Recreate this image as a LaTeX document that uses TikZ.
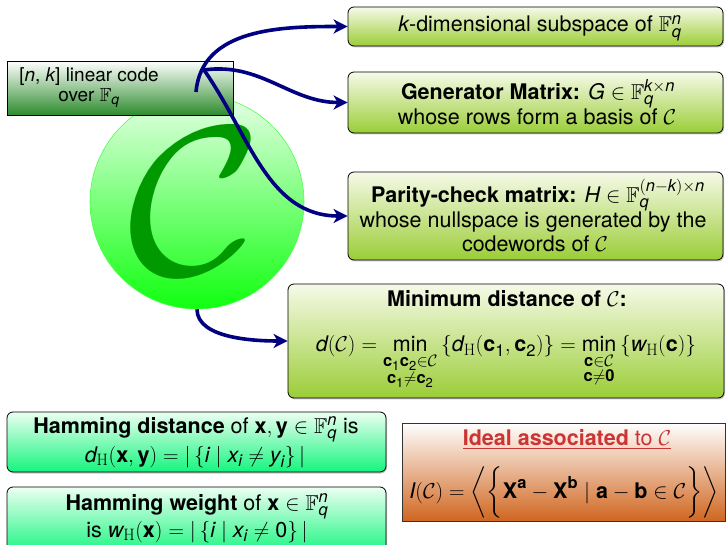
\RequirePackage{fix-cm}
\documentclass[tikz,border=0pt]{standalone}
\usepackage{amsmath,amssymb}
\usepackage{fontspec}
\setmainfont{TeX Gyre Heros}
\newfontfamily\lmr{Latin Modern Roman}
\DeclareMathSizes{21.5}{21.5}{16.5}{13}
\DeclareMathSizes{19}{19}{14}{11}
\usetikzlibrary{arrows.meta,shadows}
\definecolor{navyarrow}{RGB}{0,0,128}
\definecolor{boxtop}{RGB}{246,250,232}
\definecolor{boxgreen}{RGB}{155,205,55}
\definecolor{minttop}{RGB}{236,255,242}
\definecolor{mint}{RGB}{20,245,125}
\definecolor{codegreen}{RGB}{45,140,45}
\definecolor{idealorange}{RGB}{208,102,32}
\definecolor{idealred}{RGB}{204,51,51}
\definecolor{bigCgreen}{RGB}{0,153,0}
\definecolor{circtop}{RGB}{230,255,230}
\definecolor{circbot}{RGB}{16,255,16}
\newcommand\mv[1]{\textit{#1}}
\newcommand\bv[1]{\textbf{#1}}
\newcommand\Fq{\mathbb{F}_{\mv{q}}}
\newcommand\CC{\mathcal{C}}
\newcommand\Hs{\text{\lmr H}}
\begin{document}
\begin{tikzpicture}[x=1pt,y=1pt,
  every node/.style={font=\fontsize{21.5}{26}\selectfont},
  txt/.style={anchor=base, inner sep=0pt},
  gbox/.style={draw=black, line width=0.8pt, rounded corners=6pt, top color=boxtop,
    bottom color=boxgreen, inner sep=0pt,
    drop shadow={shadow xshift=1pt, shadow yshift=-1.5pt, opacity=0.45}},
  mbox/.style={gbox, top color=minttop, bottom color=mint},
  arr/.style={draw=navyarrow, line width=3.6pt,
    -{Stealth[length=14pt,width=14pt,inset=4pt]}}
]
\useasboundingbox (0,0) rectangle (726,-545);
% circle with big C
\node[circle, minimum size=214pt, draw=green!70, line width=0.6pt,
  top color=circtop, bottom color=circbot] (ball) at (197,-202) {};
\node[text=bigCgreen, inner sep=0pt, font=\fontsize{7}{8}\selectfont] (bigc) at (195,-202)
  {\scalebox{30.5}{$\mathcal{C}$}};
% linear code box
\node[draw=black, line width=0.8pt, minimum width=226pt, minimum height=54pt,
  top color=white, bottom color=codegreen, inner sep=0pt] (lcbox) at (120,-88) {};
\node[txt, font=\fontsize{19}{22}\selectfont] (lc1) at (89,-82) {[$\mv{n}$, $\mv{k}$] linear code};
\node[txt, font=\fontsize{19}{22}\selectfont] (lc2) at (89,-102) {over $\Fq$};
% right boxes
\node[gbox, minimum width=375pt, minimum height=39pt] (b1) at (535.5,-26.5) {};
\node[txt] (b1t) at (540,-32) {$\mv{k}$-dimensional subspace of $\Fq^{\mv{n}}$};
\node[gbox, minimum width=375pt, minimum height=61pt] (b2) at (535.5,-102.5) {};
\node[txt] (b2a) at (538,-100) {\textbf{Generator Matrix:} $\mv{G}\in\Fq^{\mv{k}\times\mv{n}}$};
\node[txt] (b2b) at (537,-125) {whose rows form a basis of $\CC$};
\node[gbox, minimum width=375pt, minimum height=88pt] (b3) at (535.5,-216) {};
\node[txt] (b3a) at (538,-203) {\textbf{Parity-check matrix:} $\mv{H}\in\Fq^{(\mv{n}-\mv{k})\times\mv{n}}$};
\node[txt] (b3b) at (533,-228) {whose nullspace is generated by the};
\node[txt] (b3c) at (535,-252) {codewords of $\CC$};
\node[gbox, minimum width=436pt, minimum height=114pt] (b4) at (506,-341) {};
\node[txt] (b4a) at (507,-307) {\textbf{Minimum distance of $\CC$:}};
\node[txt] (b4b) at (506,-352) {$\displaystyle \mv{d}(\CC)=\min_{\substack{\bv{c}_{\text{1}}\bv{c}_{\text{2}}\in\CC\\ \bv{c}_{\text{1}}\neq\bv{c}_{\text{2}}}}\,\{\mv{d}_{\Hs}(\bv{c}_{\text{1}},\bv{c}_{\text{2}})\}=\min_{\substack{\bv{c}\in\CC\\ \bv{c}\neq\bv{0}}}\,\{\mv{w}_{\Hs}(\bv{c})\}$};
% Hamming boxes
\node[mbox, minimum width=379pt, minimum height=60pt] (b5) at (196.5,-442) {};
\node[txt] (b5a) at (196,-433) {\textbf{Hamming distance} of $\bv{x},\bv{y}\in\Fq^{\mv{n}}$ is};
\node[txt] (b5b) at (195,-462) {$\mv{d}_{\Hs}(\bv{x},\bv{y})=|\,\{\mv{i}\mid\mv{x}_{\mv{i}}\neq\mv{y}_{\mv{i}}\}\,|$};
\node[mbox, minimum width=379pt, minimum height=68pt] (b6) at (196.5,-521) {};
\node[txt] (b6a) at (197,-510) {\textbf{Hamming weight} of $\bv{x}\in\Fq^{\mv{n}}$};
\node[txt] (b6b) at (197,-537) {is $\mv{w}_{\Hs}(\bv{x})=|\,\{\mv{i}\mid\mv{x}_{\mv{i}}\neq \text{0}\}\,|$};
% Ideal box
\node[draw=black!80, line width=0.8pt, minimum width=323pt, minimum height=98pt,
  top color=white, bottom color=idealorange, inner sep=0pt] (b7) at (563.5,-472) {};
\node[txt, text=idealred] (b7a) at (567,-445) {\underline{\textbf{Ideal associated} to $\CC$}};
\node[txt] (b7b) at (564,-498) {$\mv{I}(\CC)=\bigg\langle\bigg\{\bv{X}^{\bv{a}}-\bv{X}^{\bv{b}}\mid\bv{a}-\bv{b}\in\CC\bigg\}\bigg\rangle$};
% arrows
\coordinate (hubA) at (196,-92);
\coordinate (hubB) at (204,-70);
\draw[arr] (hubA) to[out=85,in=180] (b1.west);
\draw[arr] (hubB) to[out=8,in=180] (b2.west);
\draw[arr] (hubB) to[out=-55,in=180] (b3.west);
\draw[arr] (ball.south) to[out=-90,in=180,looseness=0.8] (b4.west);
\end{tikzpicture}
\end{document}
